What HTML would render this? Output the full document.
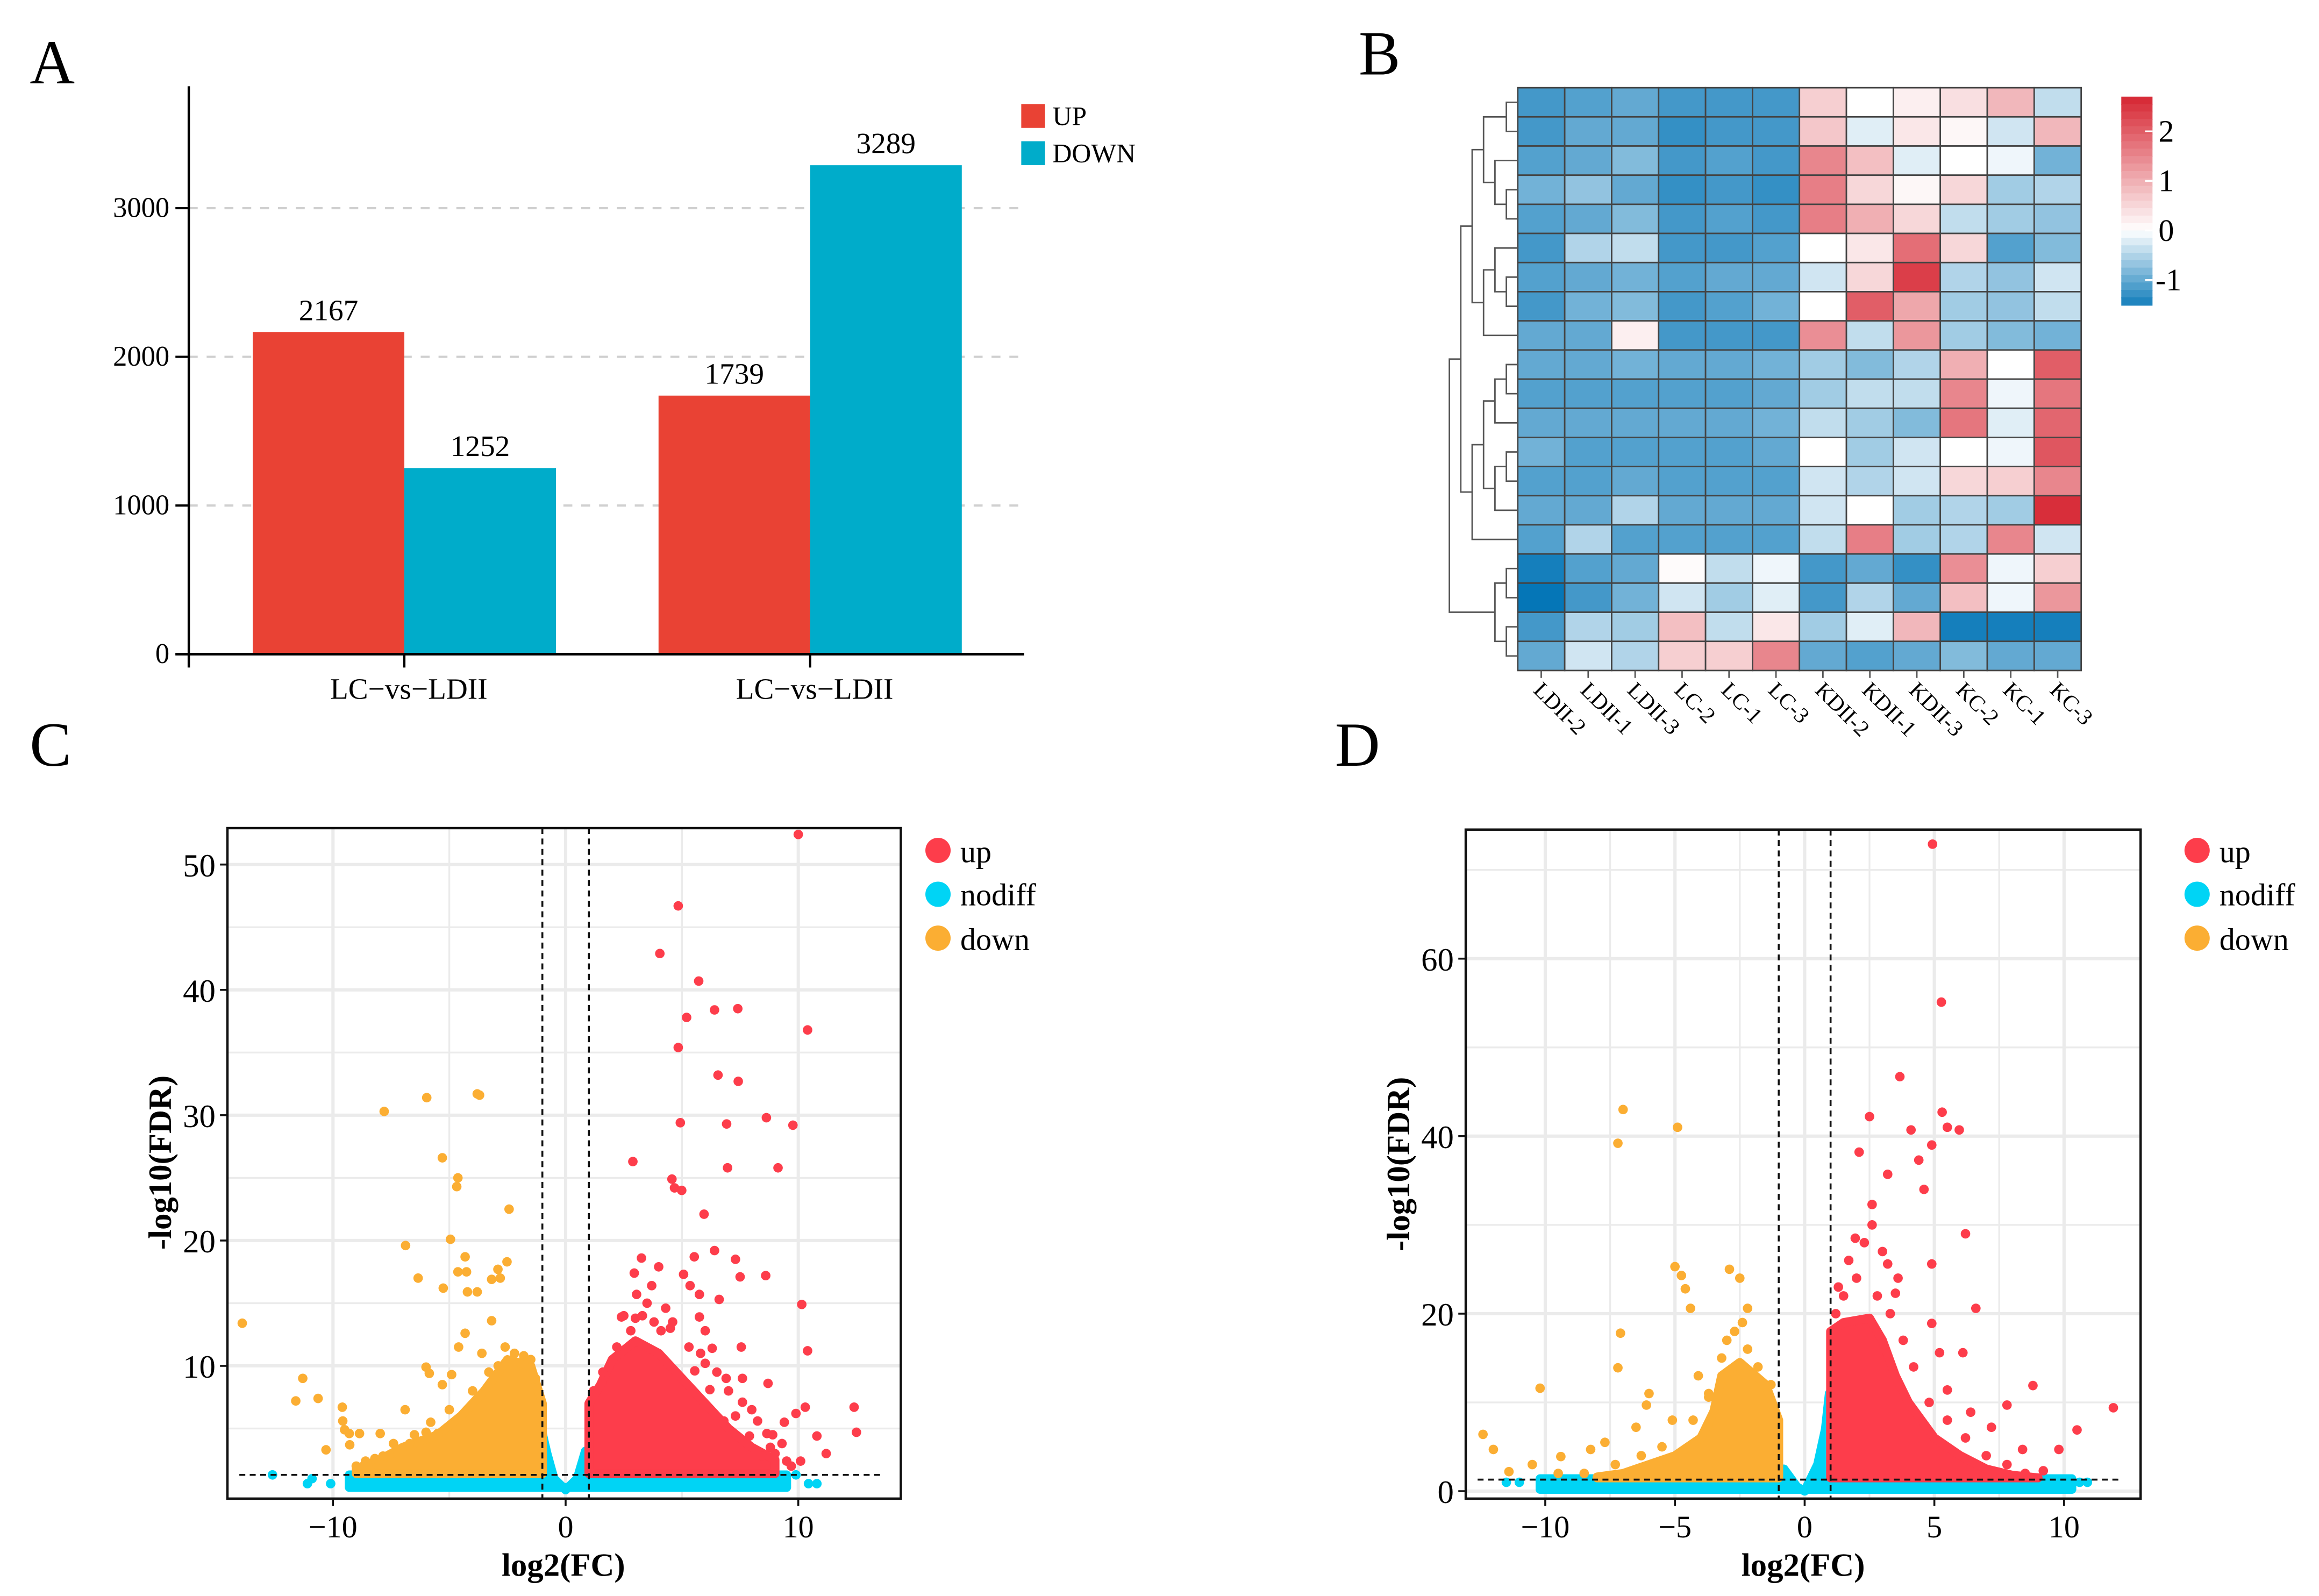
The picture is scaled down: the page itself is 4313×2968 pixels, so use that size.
<!DOCTYPE html>
<html><head><meta charset="utf-8"><style>html,body{margin:0;padding:0;background:#fff}svg{display:block}text{font-family:"Liberation Serif",serif}</style></head>
<body>
<svg id="fig" xmlns="http://www.w3.org/2000/svg" width="4313" height="2968" viewBox="0 0 1560 1073.5">
<rect width="1560" height="1073.5" fill="#fff"/>
<g id="pA">
<text x="20" y="56" font-size="42">A</text>
<rect x="687" y="70" width="16" height="16" fill="#e94234"/>
<text x="708" y="84" font-size="18">UP</text>
<rect x="687" y="95" width="16" height="16" fill="#00acca"/>
<text x="708" y="109" font-size="18">DOWN</text>
</g>
<g id="pB">
<text x="914" y="50" font-size="42">B</text>
</g>
<g id="pC">
<text x="20" y="515" font-size="42">C</text>
<text x="379" y="1060" font-size="22" font-weight="bold" text-anchor="middle">log2(FC)</text>
<text x="115" y="782" font-size="22" font-weight="bold" text-anchor="middle" transform="rotate(-90 115 782)">-log10(FDR)</text>
<circle cx="631" cy="572" r="8.5" fill="#fd3d4b"/>
<text x="646" y="580" font-size="21">up</text>
<circle cx="631" cy="601.5" r="8.5" fill="#00d4f5"/>
<text x="646" y="609" font-size="21">nodiff</text>
<circle cx="631" cy="631" r="8.5" fill="#fbae33"/>
<text x="646" y="639" font-size="21">down</text>
</g>
<g id="pD">
<text x="898" y="515" font-size="42">D</text>
<text x="1213" y="1060" font-size="22" font-weight="bold" text-anchor="middle">log2(FC)</text>
<text x="948" y="783" font-size="22" font-weight="bold" text-anchor="middle" transform="rotate(-90 948 783)">-log10(FDR)</text>
<circle cx="1478" cy="572" r="8.5" fill="#fd3d4b"/>
<text x="1493" y="580" font-size="21">up</text>
<circle cx="1478" cy="601.5" r="8.5" fill="#00d4f5"/>
<text x="1493" y="609" font-size="21">nodiff</text>
<circle cx="1478" cy="631" r="8.5" fill="#fbae33"/>
<text x="1493" y="639" font-size="21">down</text>
</g>
</svg>
<script>
var barGroups = ["LC\u2212vs\u2212LDII", "LC\u2212vs\u2212LDII"];
var upValues = [2167, 1739];
var downValues = [1252, 3289];
var barTicks = [0, 1000, 2000, 3000];

var hmCols = ["LDII-2", "LDII-1", "LDII-3", "LC-2", "LC-1", "LC-3", "KDII-2", "KDII-1", "KDII-3", "KC-2", "KC-1", "KC-3"];
var hmValues = [-1.2, -1.1, -1.0, -1.2, -1.2, -1.2, 0.6, 0, 0.2, 0.4, 0.9, -0.4, -1.2, -1.0, -1.0, -1.3, -1.2, -1.2, 0.7, -0.2, 0.3, 0.1, -0.3, 0.9, -1.1, -1.0, -0.8, -1.2, -1.1, -1.2, 1.5, 0.8, -0.2, 0, -0.1, -0.9, -0.9, -0.7, -1.0, -1.3, -1.2, -1.3, 1.6, 0.5, 0.1, 0.5, -0.6, -0.5, -1.1, -1.0, -0.8, -1.2, -1.1, -1.2, 1.6, 1.0, 0.5, -0.4, -0.6, -0.7, -1.2, -0.5, -0.4, -1.2, -1.2, -1.1, 0, 0.3, 1.8, 0.5, -1.1, -0.8, -1.1, -1.0, -0.9, -1.1, -1.0, -1.0, -0.3, 0.5, 2.4, -0.5, -0.7, -0.3, -1.2, -0.9, -0.8, -1.2, -1.1, -0.9, 0, 2.0, 1.1, -0.6, -0.7, -0.4, -1.0, -1.0, 0.2, -1.2, -1.2, -1.2, 1.4, -0.4, 1.3, -0.6, -0.8, -0.9, -1.0, -1.0, -0.9, -1.0, -1.0, -0.9, -0.6, -0.8, -0.5, 1.0, 0, 2.0, -1.1, -1.1, -1.1, -1.1, -1.1, -1.0, -0.6, -0.4, -0.4, 1.5, -0.1, 1.7, -1.0, -1.0, -1.0, -1.0, -1.0, -0.9, -0.4, -0.6, -0.8, 1.7, -0.2, 1.9, -0.9, -1.1, -1.1, -1.1, -1.1, -1.0, 0, -0.6, -0.3, 0, -0.1, 2.1, -1.1, -1.1, -1.0, -1.1, -1.1, -1.1, -0.3, -0.5, -0.3, 0.5, 0.6, 1.5, -1.0, -1.0, -0.5, -1.0, -1.0, -1.0, -0.3, 0, -0.6, -0.5, -0.6, 2.6, -1.1, -0.5, -1.1, -1.1, -1.1, -1.1, -0.4, 1.6, -0.6, -0.5, 1.5, -0.3, -1.5, -1.1, -1.0, 0.05, -0.4, -0.1, -1.2, -1.0, -1.3, 1.4, -0.1, 0.6, -1.6, -1.2, -0.9, -0.3, -0.6, -0.2, -1.2, -0.5, -1.0, 0.8, -0.1, 1.3, -1.2, -0.5, -0.6, 0.8, -0.4, 0.3, -0.6, -0.2, 0.9, -1.5, -1.5, -1.5, -1.0, -0.3, -0.5, 0.6, 0.6, 1.5, -1.0, -1.1, -1.0, -0.8, -1.0, -1.0];
var hmMergeA = [0, 3, 2, 20, 6, 5, 25, 23, 9, 28, 12, 30, 29, 32, 16, 18, 34, 27, 37];
var hmMergeB = [1, 4, 21, 22, 7, 24, 8, 26, 10, 11, 13, 14, 31, 15, 17, 19, 35, 33, 36];
var cbTicks = [2, 1, 0, -1];

var cXTicks = [-10, 0, 10];
var cYTicks = [10, 20, 30, 40, 50];
var cGridX = [-10, -5, 0, 5, 10];
var cGridY = [5, 10, 15, 20, 25, 30, 35, 40, 45, 50];
var cUpX = [10, 4.84, 4.05, 5.72, 6.4, 7.4, 5.2, 10.4, 4.84, 6.55, 7.42, 4.93, 6.92, 8.63, 9.77, 2.89, 6.96, 9.13, 4.57, 4.68, 4.99, 5.95, 6.4, 3.26, 5.53, 7.3, 4.0, 8.6, 7.5, 2.95, 5.07, 10.15, 10.4, 7.55, 8.7, 12.4, 12.5, 11.2, 10.8, 10.3, 9.9, 9.3, 10.1, 9.5, 8.8, 8.45, 6.8, 7.6, 6.2, 6.9, 7.6, 5.55, 5.75, 6, 6.3, 5.35, 5.75, 6.6, 4.3, 3.5, 3.05, 3.7, 2.4, 4.6, 8.25, 8.65, 7.9, 8.2, 8.9, 9.4, 7.3, 6.5, 5.3, 4.5, 3.8, 2.8, 2.2, 1.6, 1.2, 7, 8, 9, 9.7, 3.3, 4.1, 6, 5.8, 2.5, 3];
var cUpY = [52.4, 46.7, 42.9, 40.7, 38.4, 38.5, 37.8, 36.8, 35.4, 33.2, 32.7, 29.4, 29.3, 29.8, 29.2, 26.3, 25.8, 25.8, 24.9, 24.2, 24.0, 22.1, 19.2, 18.6, 18.7, 18.5, 17.9, 17.2, 17.1, 17.4, 17.3, 14.9, 11.2, 11.5, 8.6, 6.7, 4.7, 3.0, 4.4, 6.7, 6.2, 3.8, 2.4, 2.4, 3.5, 2.8, 5.6, 7.1, 8.1, 9.0, 9.0, 9.6, 13.9, 12.8, 11.4, 16.4, 15.7, 15.3, 14.6, 15.0, 15.7, 16.4, 13.9, 13.5, 5.6, 4.6, 4.4, 3, 4.5, 5.5, 6, 9.5, 11.5, 13, 13.5, 12.8, 11.5, 9.5, 8, 8, 6.5, 3, 2, 14, 12.8, 10.2, 11, 14, 13.8];
var cDownX = [-13.9, -7.8, -5.97, -3.8, -5.3, -4.63, -4.68, -2.43, -6.88, -4.95, -4.32, -2.52, -2.91, -3.18, -2.81, -6.34, -4.63, -4.26, -5.26, -4.22, -3.8, -3.18, -4.32, -11.3, -11.6, -10.64, -10.3, -9.6, -9.58, -9.5, -9.3, -8.86, -9.28, -7.97, -6.9, -6.0, -5.86, -5.3, -4.9, -4.6, -6.0, -5.5, -7.4, -6.7, -7.85, -8.6, -8.4, -3.7, -1.3, -1.8, -2.2, -2.9, -3.3, -4, -3.6, -5, -5.8, -6.5, -7.2, -8.2, -9, -2.6, -1.5];
var cDownY = [13.4, 30.3, 31.4, 31.7, 26.6, 25.0, 24.3, 22.5, 19.6, 20.1, 18.7, 18.3, 17.7, 16.9, 17.0, 17.0, 17.5, 17.5, 16.2, 15.9, 15.9, 13.6, 12.6, 9.0, 7.2, 7.4, 3.3, 6.7, 5.6, 4.9, 4.6, 4.6, 3.7, 4.6, 6.5, 9.9, 9.4, 8.5, 9.3, 11.5, 4.7, 4.6, 3.8, 3.8, 2.8, 2.4, 1.7, 31.6, 9, 10.8, 11, 10, 9.5, 8, 11, 6.5, 5.5, 4.5, 3, 2.6, 2, 11.5, 10.5];
var cNoX = [-12.6, -11.1, -10.9, -10.1, 10.44, 10.8, 9.9];
var cNoY = [1.3, 0.6, 1.0, 0.6, 0.6, 0.6, 1.3];
var cUpCloudX = [1, 1, 1.5, 2, 3, 4, 5, 6, 7, 8, 9, 9];
var cUpCloudY = [1.4, 7, 8.5, 10.5, 12, 11, 9, 7, 5, 3.5, 2.5, 1.4];
var cDownCloudX = [-1, -1, -1.5, -2.5, -3.5, -4.5, -5.5, -7, -8, -9, -9];
var cDownCloudY = [1.4, 7, 10, 10.5, 8, 6, 4.5, 3.5, 2.5, 1.8, 1.4];
var cNoCloudX = [-9.3, -9.3, -1.1, -1.05, -0.8, -0.5, 0, 0.5, 0.85, 1, 9.5, 9.5];
var cNoCloudY = [0.3, 1.3, 1.3, 5, 3, 1, 0.1, 1, 3.2, 1.3, 1.3, 0.3];

var dXTicks = [-10, -5, 0, 5, 10];
var dYTicks = [0, 20, 40, 60];
var dGridX = [-10, -7.5, -5, -2.5, 0, 2.5, 5, 7.5, 10];
var dGridY = [0, 10, 20, 30, 40, 50, 60, 70];
var dUpX = [4.93, 5.27, 3.67, 2.5, 5.3, 5.5, 5.96, 4.9, 4.6, 6.2, 2.1, 3.2, 4.1, 2.6, 4.4, 4.9, 1.95, 11.9, 10.5, 8.8, 7.8, 7.2, 9.8, 8.4, 6.4, 5.5, 6.1, 6.6, 4.9, 5.2, 3.5, 3.2, 1.2, 1.5, 2, 2.8, 3.3, 3.8, 4.2, 4.8, 5.5, 6.2, 7, 7.8, 8.5, 9.2, 1.7, 2.3, 3, 1.3, 2.6, 3.6];
var dUpY = [72.9, 55.1, 46.7, 42.2, 42.7, 41, 40.7, 39, 34, 29, 38.2, 35.7, 40.7, 32.3, 37.3, 25.6, 28.5, 9.4, 6.9, 11.9, 9.7, 7.2, 4.7, 4.7, 8.9, 11.4, 15.6, 20.6, 18.9, 15.6, 22.3, 25.6, 20, 22, 24, 22, 20, 17, 14, 10, 8, 6, 4, 3, 2, 2.3, 26, 28, 27, 23, 30, 24];
var dDownX = [-7.0, -7.2, -4.9, -10.2, -7.1, -7.2, -5, -4.75, -2.9, -2.5, -2.2, -4.6, -4.4, -6, -6.1, -6.5, -12.4, -12, -11.4, -10.5, -9.4, -8.25, -7.7, -3.7, -4.1, -5.1, -1.3, -1.8, -2.2, -2.7, -3.2, -3.7, -4.3, -5.5, -6.3, -7.3, -8.5, -9.5, -3, -2.4];
var dDownY = [43, 39.2, 41, 11.6, 17.8, 13.9, 25.3, 24.3, 25, 24, 20.6, 22.8, 20.6, 11, 9.7, 7.2, 6.4, 4.7, 2.2, 3, 3.9, 4.7, 5.5, 10.6, 13, 8, 12, 14, 16, 18, 15, 11, 8, 5, 4, 3, 2, 2, 17, 19];
var dNoX = [-11.5, -11, 10.6, 10.9];
var dNoY = [1, 1, 1, 1];
var dUpCloudX = [1, 1, 1.5, 2.5, 3, 3.5, 4, 5, 6, 7, 8, 9, 9];
var dUpCloudY = [1.5, 18, 19, 19.5, 17, 13, 10, 6, 4, 2.5, 1.8, 1.5, 1.5];
var dDownCloudX = [-1, -1, -1.5, -2.5, -3.2, -3.5, -4, -5, -6, -7, -8, -8];
var dDownCloudY = [1.5, 8, 12, 14.5, 13, 9, 6, 4, 3, 2, 1.6, 1.5];
var dNoCloudX = [-10.2, -10.2, -1.1, -0.8, -0.3, 0, 0.5, 0.8, 0.95, 1, 10.3, 10.3];
var dNoCloudY = [0.2, 1.4, 1.4, 2.5, 0.5, 0, 3, 7, 11, 1.4, 1.4, 0.2];

var SVGNS_Q = "http://www.w3.org/2000/svg";
function mkEl(p, tg, a, txt) {
  var e = document.createElementNS(SVGNS_Q, tg);
  for (var k in a) {
    e.setAttribute(k, a[k]);
  }
  if (txt !== undefined) {
    e.textContent = txt;
  }
  p.appendChild(e);
  return e;
}

function drawBars() {
  var g = document.getElementById('pA');
  var yA = function (v) { return 440 - v * 0.1; };
  var gcx = 222;
  for (var j = 0; j < barTicks.length; j++) {
    var t = barTicks[j];
    if (t > 0) {
      var gl = mkEl(g, 'line', {x1: 127, x2: 688, y1: yA(t), y2: yA(t), stroke: '#d0d0d0', 'stroke-width': 1.5, 'stroke-dasharray': '6 6'});
      
      
    }
    var tk = mkEl(g, 'line', {x1: 118, x2: 127, y1: yA(t), y2: yA(t), stroke: '#000', 'stroke-width': 1.5});
    
    
    var tl = mkEl(g, 'text', {x: 114, y: yA(t) + 6, 'font-size': 19, 'text-anchor': 'end'}, String(t));
    
    
  }
  for (var i = 0; i < barGroups.length; i++) {
    var x0 = gcx + i * 273 - 52;
    var r = mkEl(g, 'rect', {x: x0, y: yA(upValues[i]), width: 102, height: upValues[i] * 0.1, fill: '#e94234'});
    
    
    var b = mkEl(g, 'rect', {x: x0 + 102, y: yA(downValues[i]), width: 102, height: downValues[i] * 0.1, fill: '#00acca'});
    
    
    var t1 = mkEl(g, 'text', {x: x0 + 51, y: yA(upValues[i]) - 8, 'font-size': 20, 'text-anchor': 'middle'}, String(upValues[i]));
    
    
    var t2 = mkEl(g, 'text', {x: x0 + 153, y: yA(downValues[i]) - 8, 'font-size': 20, 'text-anchor': 'middle'}, String(downValues[i]));
    
    
    var xt = mkEl(g, 'line', {x1: x0 + 102, x2: x0 + 102, y1: 440, y2: 449, stroke: '#000', 'stroke-width': 1.5});
    
    
    var xl = mkEl(g, 'text', {x: x0 + 105, y: 470, 'font-size': 20, 'text-anchor': 'middle'}, barGroups[i]);
    
    
  }
  var ya = mkEl(g, 'line', {x1: 127, x2: 127, y1: 58, y2: 449, stroke: '#000', 'stroke-width': 1.6});
  
  
  var xa = mkEl(g, 'line', {x1: 118, x2: 689, y1: 440, y2: 440, stroke: '#000', 'stroke-width': 1.8});
  
  
}

function lerpQ(a, b, t) { return Math.round(a + (b - a) * t); }
function colrQ(v) {
  var t;
  if (v < 0) {
    t = Math.min(1, -v / 1.6);
    return 'rgb(' + lerpQ(255, 5, t) + ',' + lerpQ(255, 118, t) + ',' + lerpQ(255, 183, t) + ')';
  }
  t = Math.min(1, v / 2.7);
  return 'rgb(' + lerpQ(255, 214, t) + ',' + lerpQ(255, 38, t) + ',' + lerpQ(255, 50, t) + ')';
}

function drawHeat() {
  var g = document.getElementById('pB');
  var nC = hmCols.length;
  var nR = Math.round(hmValues.length / nC);
  var X0 = 1021, Y0 = 59, W = 379, H = 392;
  var cw = W / nC, rh = H / nR;
  for (var idx = 0; idx < hmValues.length; idx++) {
    var r = Math.floor(idx / nC), c = idx % nC;
    var cell = mkEl(g, 'rect', {x: X0 + c * cw, y: Y0 + r * rh, width: cw, height: rh, fill: colrQ(hmValues[idx]), stroke: '#444', 'stroke-width': 1});
    
    
  }
  for (var k = 0; k < nC; k++) {
    var cx = X0 + (k + 0.5) * cw;
    var tk = mkEl(g, 'line', {x1: cx, x2: cx, y1: Y0 + H, y2: Y0 + H + 5, stroke: '#555', 'stroke-width': 1});
    
    
    var lx = cx - 6, ly = Y0 + H + 14;
    var lab = mkEl(g, 'text', {x: lx, y: ly, 'font-size': 15, transform: 'rotate(45 ' + lx + ' ' + ly + ')'}, hmCols[k]);
    
    
  }
  var ny = [], nd = [];
  for (var q = 0; q < nR; q++) {
    ny.push(Y0 + (q + 0.5) * rh);
    nd.push(0);
  }
  for (var m = 0; m < hmMergeA.length; m++) {
    var a = hmMergeA[m], b = hmMergeB[m];
    nd.push(1 + Math.max(nd[a], nd[b]));
    ny.push((ny[a] + ny[b]) / 2);
  }
  var maxD = nd[nd.length - 1];
  var step = 46 / maxD;
  for (m = 0; m < hmMergeA.length; m++) {
    var na = hmMergeA[m], nb = hmMergeB[m];
    var xN = X0 - nd[nR + m] * step;
    var xa = X0 - nd[na] * step, xb = X0 - nd[nb] * step;
    var p = mkEl(g, 'path', {d: 'M' + xa + ',' + ny[na] + 'H' + xN + 'V' + ny[nb] + 'H' + xb, fill: 'none', stroke: '#555', 'stroke-width': 1});
    
    
  }
  var cbTop = 65, cbBot = 205, vMax = 2.7, vMin = -1.5;
  var cyF = function (v) { return cbTop + (vMax - v) / (vMax - vMin) * (cbBot - cbTop); };
  var steps = 28;
  for (var i = 0; i < steps; i++) {
    var v = vMax - (vMax - vMin) * (i + 0.5) / steps;
    var seg = mkEl(g, 'rect', {x: 1427, y: cbTop + (cbBot - cbTop) * i / steps, width: 21, height: (cbBot - cbTop) / steps + 0.6, fill: colrQ(v)});
    
    
  }
  for (q = 0; q < cbTicks.length; q++) {
    var tv = cbTicks[q];
    var ln = mkEl(g, 'line', {x1: 1443, x2: 1448, y1: cyF(tv), y2: cyF(tv), stroke: '#fff', 'stroke-width': 1.2});
    
    
    var tx = mkEl(g, 'text', {x: tv < 0 ? 1450 : 1452, y: cyF(tv) + 7, 'font-size': 21}, String(tv));
    
    
  }
}

function volcanoQ(g, o) {
  var sx = function (v) { return o.x0 + v * o.kx; };
  var sy = function (v) { return o.y0 - v * o.ky; };
  var i, l, t, e;
  for (i = 0; i < o.gx.length; i++) {
    var gv = o.gx[i];
    l = mkEl(g, 'line', {x1: sx(gv), x2: sx(gv), y1: o.T, y2: o.B, stroke: '#ebebeb', 'stroke-width': (gv % o.majX === 0) ? 2.2 : 1.2});
    
    
  }
  for (i = 0; i < o.gy.length; i++) {
    var hv = o.gy[i];
    l = mkEl(g, 'line', {x1: o.L, x2: o.R, y1: sy(hv), y2: sy(hv), stroke: '#ebebeb', 'stroke-width': (hv % o.majY === 0) ? 2.2 : 1.2});
    
    
  }
  function cloud(xs, ys, c, name) {
    var d = '';
    for (var j = 0; j < xs.length; j++) {
      d += (j ? 'L' : 'M') + sx(xs[j]) + ',' + sy(ys[j]);
    }
    var p = mkEl(g, 'path', {d: d + 'Z', fill: c, stroke: c, 'stroke-width': 6, 'stroke-linejoin': 'round'});
    
    
  }
  function pts(xs, ys, c, name) {
    for (var j = 0; j < xs.length; j++) {
      var ci = mkEl(g, 'circle', {cx: sx(xs[j]), cy: sy(ys[j]), r: 3.2, fill: c});
      
      
    }
  }
  cloud(o.noCX, o.noCY, '#00d4f5', 'nodiff-cloud');
  cloud(o.dnCX, o.dnCY, '#fbae33', 'down-cloud');
  cloud(o.upCX, o.upCY, '#fd3d4b', 'up-cloud');
  pts(o.noX, o.noY, '#00d4f5', 'point-nodiff');
  pts(o.dnX, o.dnY, '#fbae33', 'point-down');
  pts(o.upX, o.upY, '#fd3d4b', 'point-up');
  for (i = -1; i <= 1; i += 2) {
    l = mkEl(g, 'line', {x1: sx(i), x2: sx(i), y1: o.T, y2: o.B, stroke: '#111', 'stroke-width': 1.3, 'stroke-dasharray': '4 3'});
    
    
  }
  l = mkEl(g, 'line', {x1: o.L + 8, x2: o.R - 12, y1: sy(1.3), y2: sy(1.3), stroke: '#111', 'stroke-width': 1.3, 'stroke-dasharray': '4 3'});
  
  
  e = mkEl(g, 'rect', {x: o.L, y: o.T, width: o.R - o.L, height: o.B - o.T, fill: 'none', stroke: '#111', 'stroke-width': 1.6});
  
  
  for (i = 0; i < o.xt.length; i++) {
    var xv = o.xt[i];
    l = mkEl(g, 'line', {x1: sx(xv), x2: sx(xv), y1: o.B, y2: o.B + 5, stroke: '#111', 'stroke-width': 1.3});
    
    
    t = mkEl(g, 'text', {x: sx(xv), y: o.B + 26, 'font-size': 21, 'text-anchor': 'middle'}, xv < 0 ? '\u2212' + (-xv) : String(xv));
    
    
  }
  for (i = 0; i < o.yt.length; i++) {
    var yv = o.yt[i];
    l = mkEl(g, 'line', {x1: o.L - 5, x2: o.L, y1: sy(yv), y2: sy(yv), stroke: '#111', 'stroke-width': 1.3});
    
    
    t = mkEl(g, 'text', {x: o.L - 8, y: sy(yv) + 8, 'font-size': 22, 'text-anchor': 'end'}, String(yv));
    
    
  }
}

function drawAll() {
  try { drawBars(); } catch (err) {}
  try { drawHeat(); } catch (err) {}
  try {
    var oc = {L: 153, R: 606, T: 557, B: 1008, x0: 380.5, kx: 15.65, y0: 1003, ky: 8.43, majX: 10, majY: 10};
    oc.gx = cGridX; oc.gy = cGridY; oc.xt = cXTicks; oc.yt = cYTicks;
    oc.upX = cUpX; oc.upY = cUpY; oc.dnX = cDownX; oc.dnY = cDownY; oc.noX = cNoX; oc.noY = cNoY;
    oc.upCX = cUpCloudX; oc.upCY = cUpCloudY; oc.dnCX = cDownCloudX; oc.dnCY = cDownCloudY; oc.noCX = cNoCloudX; oc.noCY = cNoCloudY;
    volcanoQ(document.getElementById('pC'), oc);
  } catch (err) {}
  try {
    var od = {L: 986, R: 1440, T: 558, B: 1008, x0: 1214, kx: 17.45, y0: 1003, ky: 5.97, majX: 5, majY: 20};
    od.gx = dGridX; od.gy = dGridY; od.xt = dXTicks; od.yt = dYTicks;
    od.upX = dUpX; od.upY = dUpY; od.dnX = dDownX; od.dnY = dDownY; od.noX = dNoX; od.noY = dNoY;
    od.upCX = dUpCloudX; od.upCY = dUpCloudY; od.dnCX = dDownCloudX; od.dnCY = dDownCloudY; od.noCX = dNoCloudX; od.noCY = dNoCloudY;
    volcanoQ(document.getElementById('pD'), od);
  } catch (err) {}
}
drawAll();
</script>
</body></html>
